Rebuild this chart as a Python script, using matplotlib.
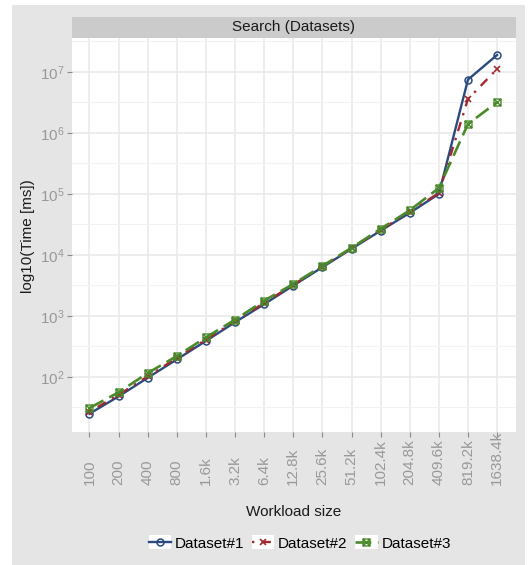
import numpy as np
import matplotlib
matplotlib.use("Agg")
import matplotlib.pyplot as plt
from matplotlib.patches import Rectangle
from matplotlib.path import Path
from matplotlib.legend_handler import HandlerLine2D
from matplotlib.ticker import FixedLocator, NullFormatter, LogFormatterMathtext

plt.rcParams['font.family'] = ['Liberation Sans', 'DejaVu Sans']

# data (time in ms)
workload = ['100', '200', '400', '800', '1.6k', '3.2k', '6.4k', '12.8k', '25.6k',
            '51.2k', '102.4k', '204.8k', '409.6k', '819.2k', '1638.4k']
dataset1 = [25, 48, 97, 194, 390, 790, 1560, 3150, 6300, 12600, 25000, 49000,
            100000, 7.5e6, 1.9e7]
dataset2 = [27, 51, 102, 205, 410, 820, 1640, 3250, 6450, 12900, 25800, 51000,
            104000, 3.6e6, 1.12e7]
dataset3 = [31, 56, 116, 220, 445, 870, 1780, 3350, 6600, 13100, 26800, 54000,
            125000, 1.4e6, 3.2e6]
names = ['Dataset#1', 'Dataset#2', 'Dataset#3']

W, H = 528, 565
fig = plt.figure(figsize=(W / 100, H / 100), dpi=100)
fig.patch.set_facecolor('white')

# grey outer panel
fig.patches.append(Rectangle((12 / W, 0), (525 - 12) / W, (H - 5) / H,
                             transform=fig.transFigure, facecolor='#e5e5e5',
                             edgecolor='none', zorder=-10))

left, right, top, bottom = 72, 516, 38, 432
ax = fig.add_axes([left / W, 1 - bottom / H, (right - left) / W, (bottom - top) / H])
ax.set_facecolor('white')

# facet strip
strip = fig.add_axes([left / W, 1 - top / H, (right - left) / W, 21 / H])
strip.set_facecolor('#cbcbcb')
strip.set_xticks([])
strip.set_yticks([])
for s in strip.spines.values():
    s.set_visible(False)
strip.text(0.5, 0.5, 'Search (Datasets)', ha='center', va='center', fontsize=11,
           color='#1a1a1a', transform=strip.transAxes)

# square with a cross inside (ggplot shape 7)
box_x = Path([(-1, -1), (1, -1), (1, 1), (-1, 1), (-1, -1),
              (-1, -1), (1, 1), (-1, 1), (1, -1)],
             [Path.MOVETO, Path.LINETO, Path.LINETO, Path.LINETO, Path.CLOSEPOLY,
              Path.MOVETO, Path.LINETO, Path.MOVETO, Path.LINETO])

x = np.arange(len(workload))
l1, = ax.plot(x, dataset1, color='#2b4a7d', lw=1.7, ls='-', marker='o', ms=5,
              mfc='none', mew=1.1, label=names[0])
l2, = ax.plot(x, dataset2, color='#a02a30', lw=1.7, ls=(0, (1, 3, 4, 3)), marker='x',
              ms=5, mew=1.2, label=names[1])
l3, = ax.plot(x, dataset3, color='#4b8a2b', lw=1.9, ls=(0, (6, 2.5)), marker=box_x,
              ms=5, mfc='none', mew=1.0, label=names[2])
for ln in (l1, l2, l3):
    ln.set_dash_capstyle('butt')

ax.set_yscale('log')
ax.set_ylim(10 ** 1.098, 10 ** 7.557)
ax.set_xlim(-0.6, 14.65)
ax.yaxis.set_major_locator(FixedLocator(10.0 ** np.arange(2, 8)))
ax.yaxis.set_major_formatter(LogFormatterMathtext())
ax.yaxis.set_minor_locator(FixedLocator(10.0 ** (np.arange(1, 8) + 0.5)))
ax.yaxis.set_minor_formatter(NullFormatter())
ax.set_xticks(x)
ax.set_xticklabels(workload, rotation=90, va='bottom', ha='center')

ax.grid(which='major', color='#e8e8e8', lw=1.1, zorder=0)
ax.grid(which='minor', axis='y', color='#f2f2f2', lw=0.8, zorder=0)
ax.set_axisbelow(True)
for s in ax.spines.values():
    s.set_visible(False)
ax.tick_params(axis='both', which='major', length=3.6, width=0.8, color='#8a8a8a',
               labelcolor='#999999', labelsize=11)
ax.tick_params(axis='y', which='major', pad=2)
# labels start (bottom edge) around y=485 px, reading upward
ax.tick_params(axis='x', which='major', pad=(485 - 437) * 0.72)
ax.tick_params(which='minor', length=0)

fig.text(28 / W, 1 - 236 / H, 'log10(Time [ms])', rotation=90, ha='center',
         va='center', fontsize=11, color='#1a1a1a')
fig.text(294 / W, 1 - 512 / H, 'Workload size', ha='center', va='center',
         fontsize=11, color='#1a1a1a')


class KeyHandler(HandlerLine2D):
    def create_artists(self, legend, orig_handle, xdescent, ydescent, width,
                       height, fontsize, trans):
        bg = Rectangle((-xdescent, -ydescent), width, height, facecolor='white',
                       edgecolor='none', transform=trans)
        arts = super().create_artists(legend, orig_handle, xdescent, ydescent,
                                      width, height, fontsize, trans)
        return [bg] + list(arts)


h = KeyHandler()
fig.legend(handles=[l1, l2, l3], loc='center', bbox_to_anchor=(300 / W, 1 - 543 / H),
           ncol=3, frameon=False, handlelength=1.45, handleheight=1.0,
           handletextpad=0.25, columnspacing=0.5, fontsize=11,
           handler_map={l1: h, l2: h, l3: h})

fig.savefig('out.png', dpi=100)
